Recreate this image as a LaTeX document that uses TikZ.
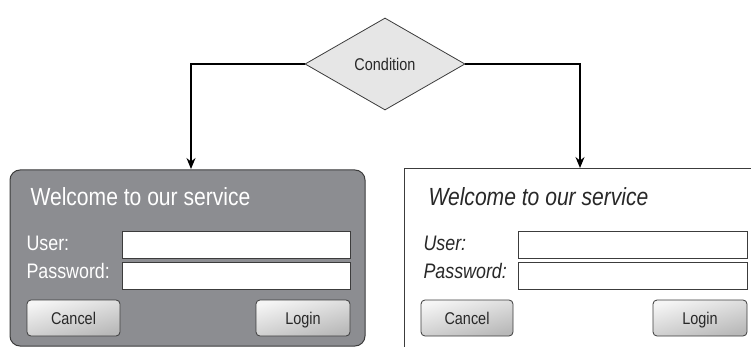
\documentclass[tikz,border=0pt]{standalone}
\usepackage{fontspec}
\setmainfont{Liberation Sans}[FakeStretch=0.85]
\usetikzlibrary{shapes.geometric,arrows.meta}
\definecolor{panelgray}{RGB}{140,141,145}
\definecolor{linegray}{RGB}{60,60,60}
\definecolor{diafill}{RGB}{230,230,230}
\definecolor{txtdark}{RGB}{40,40,40}
\tikzset{
  cond/.style={shape=diamond, draw=linegray, fill=diafill, line width=0.8pt,
    minimum width=160pt, minimum height=92pt, inner sep=0pt,
    font=\fontsize{17}{17}\selectfont, text=txtdark},
  conn/.style={draw=black, line width=1.2pt, -{Stealth[length=11pt,width=9pt]}},
  field/.style={draw=linegray, fill=white, line width=0.8pt},
  btn/.style={draw=linegray, line width=0.8pt, rounded corners=4pt,
    top color=gray!8, bottom color=gray!55, shading angle=15},
  btntext/.style={anchor=base, font=\fontsize{17}{17}\selectfont, text=txtdark},
  title/.style={anchor=base west, font=\fontsize{24.8}{25}\selectfont},
  lbl/.style={anchor=base west, font=\fontsize{21}{21}\selectfont},
}
\begin{document}
\begin{tikzpicture}[x=1pt,y=-1pt]
\useasboundingbox (0,0) rectangle (751,347);
\fill[white] (0,0) rectangle (751,347);
% panels
\draw[fill=panelgray, draw=linegray, line width=1pt, rounded corners=10pt]
  (10,170) rectangle (365,346);
\coordinate (lpin) at (191,169);
\fill[white] (404,169) rectangle (751,347);
\draw[linegray, line width=1pt] (751,169) -- (404,169) -- (404,347);
\coordinate (rpin) at (580,168);
% condition
\node[cond] (c) at (385,64) {Condition};
\draw[conn] (c.west) -| (lpin);
\draw[conn] (c.east) -| (rpin);
% left panel content
\node[title, text=white] (lt) at (27,205) {Welcome to our service};
\node[lbl, text=white] (lu) at (23,250) {User:};
\node[lbl, text=white] (lp) at (23,278) {Password:};
\draw[field] (122,231) rectangle (350,258);
\draw[field] (122,262) rectangle (350,289);
\draw[btn] (27,300) rectangle (120,336);
\node[btntext] (lc) at (73.5,324) {Cancel};
\draw[btn] (256,300) rectangle (350,336);
\node[btntext] (ll) at (303,324) {Login};
% right panel content
\node[title, text=txtdark, font=\fontsize{24.8}{25}\selectfont\itshape] (rt) at (425,205) {Welcome to our service};
\node[lbl, text=txtdark, font=\fontsize{21}{21}\selectfont\itshape] (ru) at (420,250) {User:};
\node[lbl, text=txtdark, font=\fontsize{21}{21}\selectfont\itshape] (rp) at (420,278) {Password:};
\draw[field] (518,231) rectangle (747,258);
\draw[field] (518,262) rectangle (747,289);
\draw[btn] (421,300) rectangle (513,336);
\node[btntext] (rc) at (467,324) {Cancel};
\draw[btn] (653,300) rectangle (747,336);
\node[btntext] (rl) at (700,324) {Login};
\end{tikzpicture}
\end{document}
